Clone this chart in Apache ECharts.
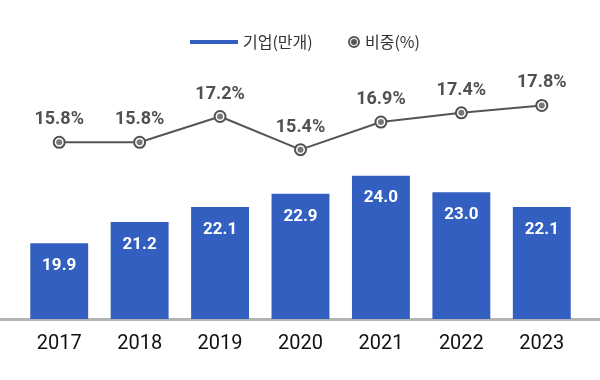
<!DOCTYPE html>
<html>
<head>
<meta charset="utf-8">
<script src="https://cdn.jsdelivr.net/npm/echarts@6/dist/echarts.min.js"></script>
<style>html,body{margin:0;padding:0;background:#fff;}#c{width:600px;height:380px;}</style>
</head>
<body>
<div id="c"></div>
<script>
const years = ['2017','2018','2019','2020','2021','2022','2023'];
const companies = [19.9, 21.2, 22.1, 22.9, 24.0, 23.0, 22.1];
const shares = [15.8, 15.8, 17.2, 15.4, 16.9, 17.4, 17.8];
const barName = '기업(만개)';
const lineName = '비중(%)';

const chart = echarts.init(document.getElementById('c'), null, {renderer: 'canvas'});
const ringIcon = 'path://M0,5A5,5 0 1,1 10,5A5,5 0 1,1 0,5Z M1.7,5A3.3,3.3 0 1,0 8.3,5A3.3,3.3 0 1,0 1.7,5Z M2.5,5A2.5,2.5 0 1,1 7.5,5A2.5,2.5 0 1,1 2.5,5Z';
const font = 'Roboto, "Noto Sans CJK KR", sans-serif';
const krFont = '"Noto Sans CJK KR", sans-serif';

chart.setOption({
  animation: false,
  backgroundColor: '#fff',
  legend: [
    {data: [{name: barName, icon: 'rect'}], left: 185, top: 29, itemWidth: 48, itemHeight: 4,
     textStyle: {fontFamily: krFont, fontSize: 16, color: '#333'}},
    {data: [{name: lineName, icon: ringIcon, itemStyle: {color: '#555', borderWidth: 0}}],
     left: 343, top: 29, itemWidth: 12, itemHeight: 12,
     itemStyle: {color: '#555', borderWidth: 0},
     textStyle: {fontFamily: krFont, fontSize: 16, color: '#333'}}
  ],
  grid: [
    {left: 19, right: 18, top: 60, bottom: 61},
    {left: 0, right: 0, top: 60, bottom: 61}
  ],
  xAxis: [
    {type: 'category', data: years, gridIndex: 0, axisLine: {show: false}, axisTick: {show: false},
     axisLabel: {fontFamily: font, fontSize: 20, color: '#111', margin: 15}},
    {type: 'value', gridIndex: 1, min: 0, max: 1, axisLine: {show: true, lineStyle: {color: '#b4b4b4', width: 3}},
     axisTick: {show: false}, axisLabel: {show: false}, splitLine: {show: false}}
  ],
  yAxis: [
    {type: 'value', gridIndex: 0, min: 15.31, max: 31.02, show: false, splitLine: {show: false}},
    {type: 'value', gridIndex: 0, min: 6.2, max: 20.27, show: false, splitLine: {show: false}},
    {type: 'value', gridIndex: 1, min: 0, max: 1, show: false, splitLine: {show: false}}
  ],
  series: [
    {name: barName, type: 'bar', xAxisIndex: 0, yAxisIndex: 0, data: companies, barCategoryGap: '28%',
     itemStyle: {color: '#335fc1'}, z: 1,
     label: {show: true, position: 'insideTop', distance: 14, color: '#fff', fontFamily: font,
             fontWeight: 'bold', fontSize: 17, formatter: p => p.value.toFixed(1)}},
    {name: lineName, type: 'line', xAxisIndex: 0, yAxisIndex: 1, data: shares, z: 3,
     symbol: 'circle', symbolSize: 11, lineStyle: {color: '#555', width: 2},
     itemStyle: {color: '#fff', borderColor: '#505050', borderWidth: 2},
     label: {show: true, position: 'top', distance: 7, color: '#505050', fontFamily: font,
             fontWeight: 'bold', fontSize: 18, formatter: p => p.value.toFixed(1) + '%'}},
    {name: lineName, type: 'scatter', xAxisIndex: 0, yAxisIndex: 1, data: shares, z: 4,
     symbol: 'circle', symbolSize: 6, itemStyle: {color: '#555'}, silent: true}
  ]
});
</script>
</body>
</html>
